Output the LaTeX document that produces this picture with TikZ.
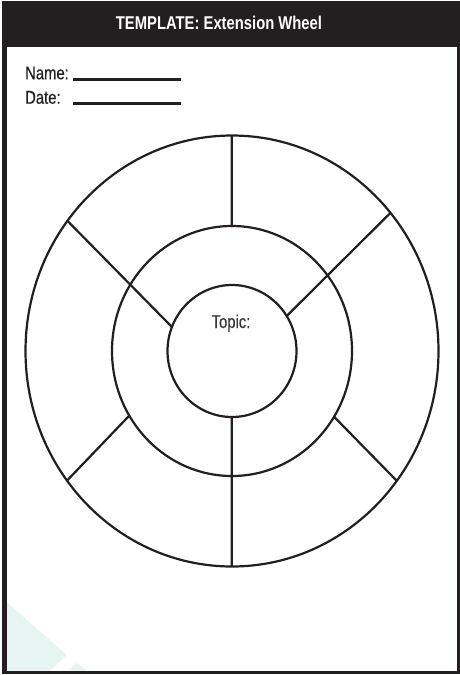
\documentclass[tikz,border=0pt]{standalone}
\usepackage{fontspec}
\setmainfont{Liberation Sans}[FakeStretch=0.8]
\newfontfamily\medfont{Liberation Sans}[FakeStretch=0.8, FakeBold=0.4]
\usetikzlibrary{intersections}
\definecolor{ink}{HTML}{231F20}
\definecolor{topicgray}{HTML}{3A3A3A}
\definecolor{tealtint}{HTML}{E7F5F2}
\tikzset{
  ring/.style={draw=ink, line width=2.2pt},
  spoke/.style={draw=ink, line width=2.2pt},
  blank/.style={draw=ink, line width=3pt},
  label/.style={inner sep=0pt, text=ink, font=\medfont\fontsize{18.5}{22}\selectfont},
}
\begin{document}
\begin{tikzpicture}[x=1pt,y=-1pt]
\useasboundingbox (0,0) rectangle (460,675);
\fill[white] (0,0) rectangle (460,675);
% faint teal decoration bottom-left
\fill[tealtint] (6.5,602) -- (66.7,655) -- (50,670.7) -- (6.5,670.7) -- cycle;
\fill[tealtint] (68,670.7) -- (76.7,662.7) -- (86.7,670.7) -- cycle;
% header band and frame
\fill[ink] (2,1) rectangle (460,47);
\fill[ink] (2,1) rectangle (6.6,674.3);
\fill[ink] (457.3,1) rectangle (460,674.3);
\fill[ink] (2,670.7) rectangle (460,674.3);
\node[label, text=white, font=\fontsize{18.5}{22}\selectfont\bfseries, anchor=base] (title) at (219,29.3) {TEMPLATE: Extension Wheel};
% name / date
\node[label, anchor=base west] (name) at (25,79.3) {Name:};
\node[label, anchor=base west] (date) at (25,103.7) {Date:};
\coordinate (n1) at (73.3,79);
\coordinate (n2) at (181,79);
\coordinate (d1) at (73.3,103);
\coordinate (d2) at (181,103);
\draw[blank] (n1) -- (n2);
\draw[blank] (d1) -- (d2);
% wheel
\coordinate (C) at (232,351);
\draw[ring, name path=outer] (C) ellipse [x radius=206.5pt, y radius=215.5pt];
\draw[ring, name path=middle] (C) ellipse [x radius=120pt, y radius=125pt];
\draw[ring, name path=inner] (C) ellipse [x radius=64.5pt, y radius=66pt];
% spoke guides
\path[name path=gtop] (231.8,100) -- (231.8,240);
\path[name path=gbot] (231.8,400) -- (231.8,600);
\path[name path=gul] (40,193) -- (200,355.5);
\path[name path=gur] (420,183.5) -- (260,342.5);
\path[name path=gll] (150,394) -- (40,508.8);
\path[name path=glr] (315,397.3) -- (425,509.6);
\path[name intersections={of=gtop and outer, by=top-o}];
\path[name intersections={of=gtop and middle, by=top-m}];
\path[name intersections={of=gbot and outer, by=bot-o}];
\path[name intersections={of=gbot and inner, by=bot-i}];
\path[name intersections={of=gul and outer, by=ul-o}];
\path[name intersections={of=gul and inner, by=ul-i}];
\path[name intersections={of=gur and outer, by=ur-o}];
\path[name intersections={of=gur and inner, by=ur-i}];
\path[name intersections={of=gll and outer, by=ll-o}];
\path[name intersections={of=gll and middle, by=ll-m}];
\path[name intersections={of=glr and outer, by=lr-o}];
\path[name intersections={of=glr and middle, by=lr-m}];
\draw[spoke] (top-m) -- (top-o);
\draw[spoke] (bot-i) -- (bot-o);
\draw[spoke] (ul-i) -- (ul-o);
\draw[spoke] (ur-i) -- (ur-o);
\draw[spoke] (ll-m) -- (ll-o);
\draw[spoke] (lr-m) -- (lr-o);
\node[label, text=topicgray, anchor=base] (topic) at (231,328) {Topic:};
\end{tikzpicture}
\end{document}
